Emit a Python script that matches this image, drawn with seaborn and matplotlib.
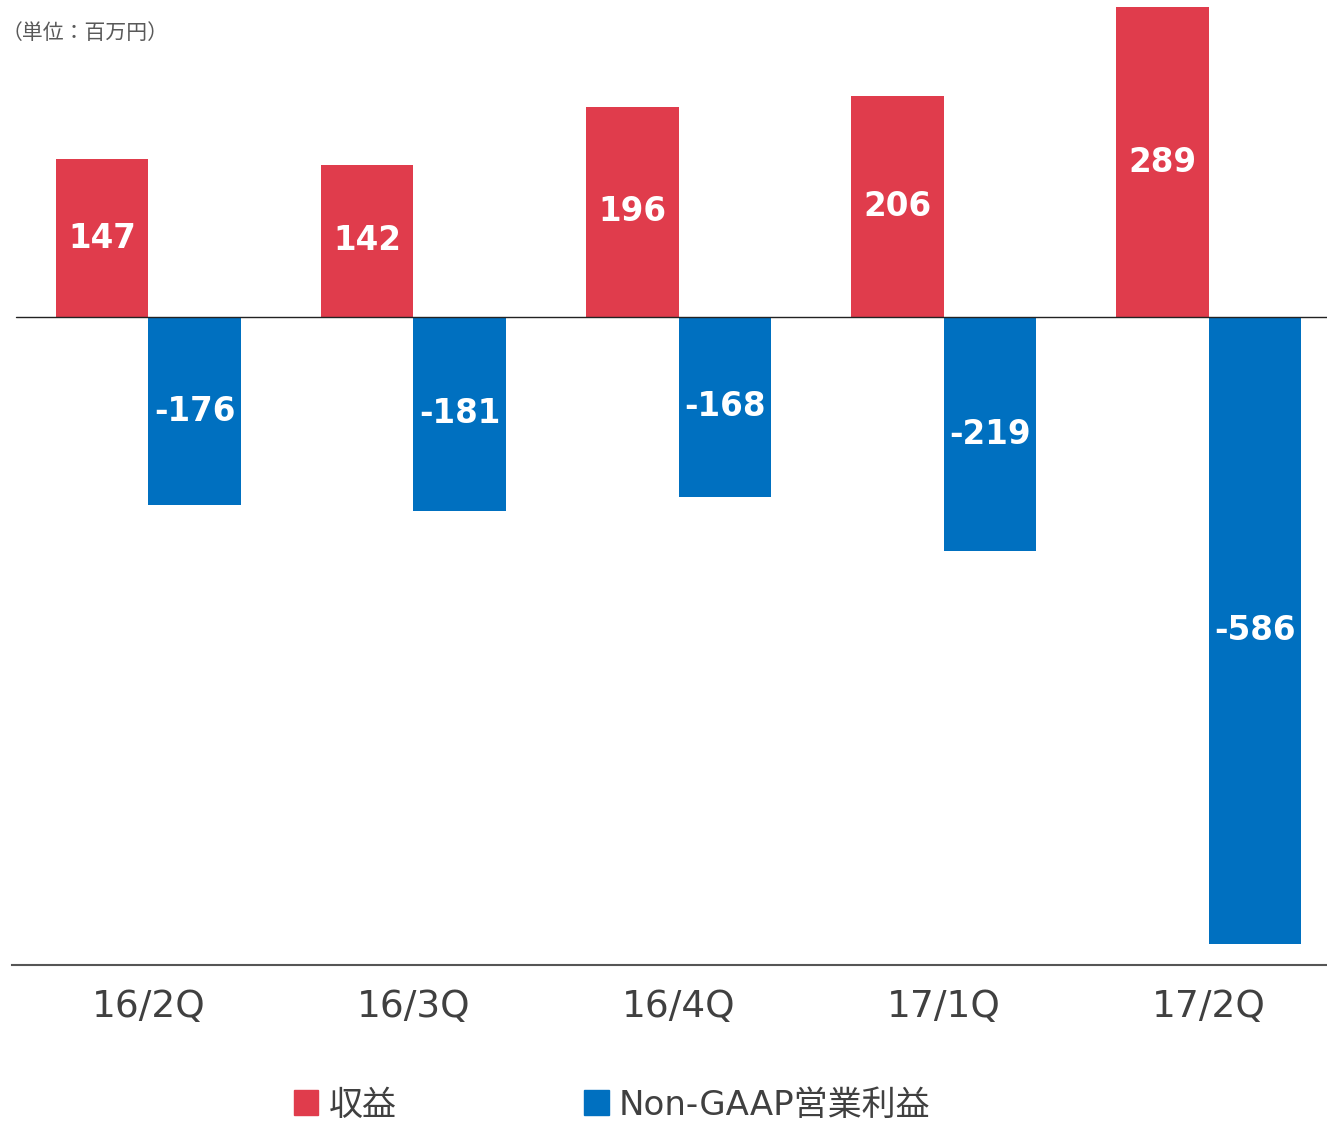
import matplotlib
matplotlib.use("Agg")
import matplotlib.pyplot as plt
import matplotlib.patches as mpatches
import seaborn as sns
import pandas as pd

# データ
quarters = ["16/2Q", "16/3Q", "16/4Q", "17/1Q", "17/2Q"]
revenue = [147, 142, 196, 206, 289]
op_income = [-176, -181, -168, -219, -586]
series_names = ["収益", "Non-GAAP営業利益"]
colors = ["#E03C4C", "#0070C0"]

df = pd.DataFrame({
    "quarter": quarters * 2,
    "value": revenue + op_income,
    "series": [series_names[0]] * len(quarters) + [series_names[1]] * len(quarters),
})

sns.set_style("white")
plt.rcParams['font.family'] = ['DejaVu Sans', 'Noto Sans CJK JP']

fig = plt.figure(figsize=(13.27, 11.23), dpi=100)
ax = fig.add_axes([12 / 1327, 1 - 965 / 1123, 1315 / 1327, 965 / 1123])

sns.barplot(data=df, x="quarter", y="value", hue="series", order=quarters,
            hue_order=series_names, palette=colors, width=0.7, gap=0,
            saturation=1, legend=False, linewidth=0, ax=ax)

# ラベル
for cont in ax.containers:
    ax.bar_label(cont, label_type="center", color="white", fontsize=23.5,
                 fontweight="bold", family="DejaVu Sans")

ax.set_xlim(-0.515, 4.447)
ax.set_ylim(-605.6, 296)
ax.axhline(0, xmin=0.003, xmax=1, color="#222222", lw=1.0, zorder=3)

ax.set_xlabel("")
ax.set_ylabel("")
ax.set_yticks([])
ax.tick_params(axis="x", length=0, pad=17, labelsize=27, labelcolor="#404040")
for s in ["top", "left", "right"]:
    ax.spines[s].set_visible(False)
ax.spines["bottom"].set_color("#555555")
ax.spines["bottom"].set_linewidth(1.5)

fig.text(0.001, 1 - 33 / 1123, "（単位：百万円）", fontsize=15, color="#595959",
         va="center", ha="left")

handles = [mpatches.Patch(color=c, label=n) for c, n in zip(colors, series_names)]
fig.legend(handles=handles, loc="center", bbox_to_anchor=(612 / 1327, 1 - 1105 / 1123),
           ncol=2, frameon=False, fontsize=24.5, handlelength=0.73, handleheight=0.73,
           handletextpad=0.3, columnspacing=5.5, labelcolor="#404040")

fig.savefig("out.png", dpi=100)
